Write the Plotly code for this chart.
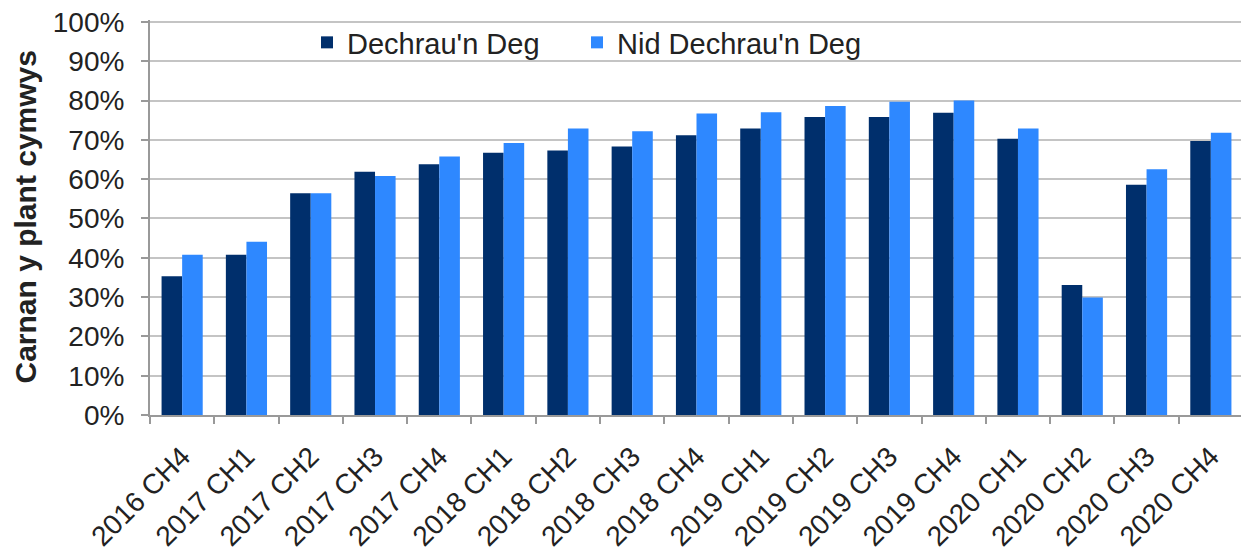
import plotly.graph_objects as go

categories = ["2016 CH4", "2017 CH1", "2017 CH2", "2017 CH3", "2017 CH4",
              "2018 CH1", "2018 CH2", "2018 CH3", "2018 CH4",
              "2019 CH1", "2019 CH2", "2019 CH3", "2019 CH4",
              "2020 CH1", "2020 CH2", "2020 CH3", "2020 CH4"]
dechrau_deg = [35.3, 40.8, 56.4, 61.9, 63.8, 66.7, 67.3, 68.3, 71.2,
               72.9, 75.8, 75.8, 76.9, 70.3, 33.1, 58.6, 69.7]
nid_dechrau_deg = [40.8, 44.1, 56.4, 60.8, 65.8, 69.2, 72.9, 72.2, 76.7,
                   77.0, 78.6, 79.7, 80.0, 72.9, 29.9, 62.5, 71.8]
series_names = ["Dechrau'n Deg", "Nid Dechrau'n Deg"]
y_ticks = [0, 10, 20, 30, 40, 50, 60, 70, 80, 90, 100]
y_labels = [f"{v}%" for v in y_ticks]
y_title = "Carnan y plant cymwys"

FONT = "Liberation Sans, Arial, sans-serif"
TXT = "#222222"
ML, MR, MT, MB = 142, 14, 12, 143
PW = 1249 - ML - MR
PH = 550 - MT - MB

fig = go.Figure()
fig.add_trace(go.Bar(x=categories, y=dechrau_deg, name=series_names[0],
                     marker=dict(color="#002F6C", line=dict(width=0)),
                     legend="legend"))
fig.add_trace(go.Bar(x=categories, y=nid_dechrau_deg, name=series_names[1],
                     marker=dict(color="#2E88FF", line=dict(width=0)),
                     legend="legend2"))

leg_common = dict(orientation="h", y=1.0 + 3 / PH, xanchor="left", yanchor="top",
                  bgcolor="rgba(0,0,0,0)", font=dict(size=29, color=TXT),
                  itemwidth=30)

fig.update_layout(
    width=1249, height=550,
    margin=dict(l=ML, r=MR, t=MT, b=MB, autoexpand=False),
    paper_bgcolor="white", plot_bgcolor="white",
    barmode="group", bargap=0.36, bargroupgap=0,
    font=dict(family=FONT, size=28, color=TXT),
    showlegend=True,
    legend=dict(x=(307 - 150) / PW, **leg_common),
    legend2=dict(x=(577 - 150) / PW, **leg_common),
    annotations=[dict(text=f"<b>{y_title}</b>", xref="paper", yref="paper",
                      x=-(150 - 25) / PW, y=0.5, xanchor="center", yanchor="middle",
                      textangle=-90, showarrow=False,
                      font=dict(size=30, color=TXT, family=FONT))],
)
fig.update_yaxes(range=[0, 100.5], tickvals=y_ticks, ticktext=y_labels,
                 showgrid=True, gridcolor="#C4C4C4", gridwidth=2,
                 showline=True, linecolor="#999999", linewidth=2,
                 ticks="outside", ticklen=7, tickcolor="#999999", tickwidth=2,
                 tickfont=dict(size=28, color=TXT), zeroline=False,
                 ticklabeloverflow="allow", ticklabelstandoff=11,
                 automargin=False)
fig.update_xaxes(tickangle=-45, showline=True, linecolor="#999999", linewidth=2,
                 ticks="outside", tickson="boundaries", ticklen=7,
                 tickcolor="#999999", tickwidth=2,
                 tickfont=dict(size=28, color=TXT), ticklabelstandoff=12,
                 ticklabeloverflow="allow", automargin=False)

fig.write_html("out.html")
